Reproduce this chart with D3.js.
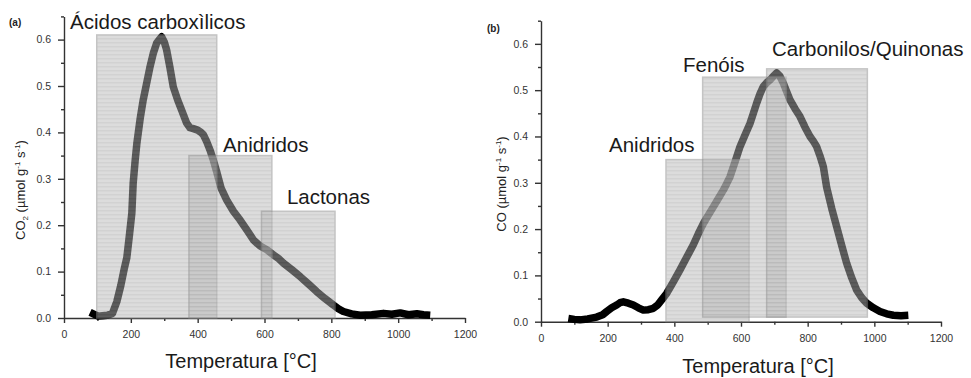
<!DOCTYPE html>
<html>
<head>
<meta charset="utf-8">
<script src="https://cdn.jsdelivr.net/npm/d3@7"></script>
<style>
  body { margin: 0; background: #fff; }
  svg { display: block; font-family: "Liberation Sans", Arial, sans-serif; }
  .axis path, .axis line { stroke: #333; stroke-width: 1.4; }
  .axis text { fill: #333; font-size: 10.5px; font-family: "Liberation Sans", Arial, sans-serif; }
  .box { fill: url(#stripes); stroke: #8a8a8a; stroke-width: 1.5; opacity: 0.5; }
  .label { fill: #1a1a1a; font-size: 20.5px; }
  .xtitle { fill: #1a1a1a; font-size: 20px; }
  .ytitle { fill: #222; font-size: 13px; }
  .panel { fill: #222; font-size: 10px; font-weight: bold; }
</style>
</head>
<body>
<script>
// panel (a): CO2 desorption
const tempA = [78, 102, 115, 130, 145, 158, 170, 180, 188, 196, 203, 207, 213, 218, 228, 237,
  247, 257, 267, 277, 285, 292, 300, 307, 317, 327, 340, 352, 367, 377, 387, 400, 410, 417,
  427, 437, 447, 457, 470, 487, 507, 527, 547, 567, 587, 607, 627, 642, 657, 682, 707, 732,
  756, 781, 806, 821, 836, 861, 886, 921, 956, 981, 1006, 1031, 1056, 1076, 1096];
const co2 = [0.012, 0.004, 0.005, 0.006, 0.01, 0.035, 0.07, 0.105, 0.13, 0.18, 0.226, 0.29,
  0.34, 0.376, 0.43, 0.47, 0.505, 0.54, 0.57, 0.592, 0.6, 0.606, 0.595, 0.578, 0.54, 0.498,
  0.47, 0.448, 0.42, 0.41, 0.408, 0.405, 0.4, 0.395, 0.38, 0.362, 0.34, 0.315, 0.28, 0.254,
  0.23, 0.211, 0.19, 0.168, 0.155, 0.147, 0.136, 0.128, 0.118, 0.104, 0.089, 0.073, 0.057,
  0.042, 0.028, 0.02, 0.014, 0.009, 0.006, 0.007, 0.01, 0.008, 0.011, 0.007, 0.009, 0.007, 0.006];

// panel (b): CO desorption
const tempB = [82, 100, 117, 140, 167, 185, 197, 212, 227, 237, 247, 262, 277, 292, 307, 322,
  337, 350, 362, 377, 397, 417, 437, 457, 472, 487, 502, 517, 532, 547, 557, 567, 582, 597,
  612, 627, 637, 647, 657, 667, 677, 687, 697, 707, 717, 727, 737, 747, 762, 777, 792, 807,
  817, 827, 837, 847, 857, 872, 887, 902, 917, 932, 947, 962, 977, 997, 1017, 1037, 1057, 1080, 1102];
const co = [0.007, 0.005, 0.004, 0.006, 0.01, 0.015, 0.022, 0.03, 0.036, 0.041, 0.043, 0.04,
  0.036, 0.03, 0.025, 0.026, 0.029, 0.036, 0.047, 0.061, 0.086, 0.112, 0.139, 0.166, 0.19,
  0.212, 0.23, 0.248, 0.266, 0.284, 0.298, 0.313, 0.345, 0.378, 0.403, 0.428, 0.45, 0.472,
  0.492, 0.508, 0.516, 0.522, 0.53, 0.537, 0.53, 0.515, 0.497, 0.479, 0.46, 0.443, 0.42, 0.4,
  0.39, 0.378, 0.358, 0.335, 0.29, 0.245, 0.205, 0.165, 0.126, 0.095, 0.068, 0.052, 0.04,
  0.03, 0.022, 0.017, 0.014, 0.013, 0.014];

// shaded regions (temperature range, height) and their labels
const groupsA = ["Ácidos carboxìlicos", "Anidridos", "Lactonas"];
const fromA = [98, 374, 591];
const toA = [457, 622, 811];
const topA = [0.61, 0.35, 0.23];
const bottomA = [0, 0, 0];
const labelTA = [18, 476, 667];
const labelVA = [0.622, 0.357, 0.245];

const groupsB = ["Anidridos", "Fenóis", "Carbonilos/Quinonas"];
const fromB = [375, 485, 677];
const toB = [624, 735, 979];
const topB = [0.35, 0.528, 0.546];
const bottomB = [0, 0.01, 0.01];
const labelTB = [204, 426, 693];
const labelVB = [0.367, 0.539, 0.574];

const xMajor = [0, 200, 400, 600, 800, 1000, 1200];
const xMinor = [100, 300, 500, 700, 900, 1100];
const yMajor = [0, 0.1, 0.2, 0.3, 0.4, 0.5, 0.6];
const yMinor = [0.05, 0.15, 0.25, 0.35, 0.45, 0.55, 0.65];

const svg = d3.select('body').append('svg')
  .attr('width', 971)
  .attr('height', 378);

// striped grey fill used by the region boxes
let pat = svg.append('defs').append('pattern')
  .attr('id', 'stripes')
  .attr('patternUnits', 'userSpaceOnUse')
  .attr('width', 8)
  .attr('height', 4);
pat.append('rect').attr('width', 8).attr('height', 4).attr('fill', '#bababa');
pat.append('rect').attr('y', 2).attr('width', 8).attr('height', 1.5).attr('fill', '#a6a6a6');

function drawPanel(p) {
  let x = d3.scaleLinear().domain([0, 1200]).range(p.xRange);
  let y = d3.scaleLinear().domain([0, 0.65]).range(p.yRange);
  let g = svg.append('g');

  // axes
  g.append('g').attr('class', 'axis')
    .attr('transform', `translate(0,${p.yRange[0]})`)
    .call(d3.axisBottom(x).tickValues(xMajor).tickSize(5).tickSizeOuter(0).tickPadding(8).tickFormat(d3.format('d')));
  g.append('g').attr('class', 'axis')
    .attr('transform', `translate(0,${p.yRange[0]})`)
    .call(d3.axisBottom(x).tickValues(xMinor).tickSize(3).tickSizeOuter(0).tickFormat(''))
    .select('.domain').remove();
  g.append('g').attr('class', 'axis')
    .attr('transform', `translate(${p.xRange[0]},0)`)
    .call(d3.axisLeft(y).tickValues(yMajor).tickSize(6).tickSizeOuter(0).tickPadding(7).tickFormat(d3.format('.1f')));
  g.append('g').attr('class', 'axis')
    .attr('transform', `translate(${p.xRange[0]},0)`)
    .call(d3.axisLeft(y).tickValues(yMinor).tickSize(3).tickSizeOuter(0).tickFormat(''))
    .select('.domain').remove();

  // desorption curve, drawn thick like the dense square markers
  let line = d3.line().x((d, i) => x(p.temps[i])).y(d => y(d));
  g.append('path')
    .datum(p.values)
    .attr('d', line)
    .attr('fill', 'none')
    .attr('stroke', '#000')
    .attr('stroke-width', 7.5)
    .attr('stroke-linejoin', 'round');

  // translucent region boxes on top of the curve
  g.selectAll('rect.box')
    .data(p.groups)
    .enter().append('rect')
      .attr('class', 'box')
      .attr('x', (d, i) => x(p.from[i]))
      .attr('width', (d, i) => x(p.to[i]) - x(p.from[i]))
      .attr('y', (d, i) => y(p.top[i]))
      .attr('height', (d, i) => y(p.bottom[i]) - y(p.top[i]));

  g.selectAll('text.label')
    .data(p.groups)
    .enter().append('text')
      .attr('class', 'label')
      .attr('x', (d, i) => x(p.labelT[i]))
      .attr('y', (d, i) => y(p.labelV[i]))
      .text(d => d);

  g.append('text')
    .attr('class', 'xtitle')
    .attr('x', p.xTitle[0])
    .attr('y', p.xTitle[1])
    .attr('text-anchor', 'middle')
    .text('Temperatura [°C]');

  let yt = g.append('text')
    .attr('class', 'ytitle')
    .attr('transform', `translate(${p.yTitle[0]},${p.yTitle[1]}) rotate(-90)`)
    .attr('text-anchor', 'middle');
  yt.append('tspan').text(p.gas);
  if (p.sub) yt.append('tspan').attr('font-size', '8px').attr('dy', 3).text(p.sub);
  yt.append('tspan').attr('dy', p.sub ? -3 : 0).text(' (µmol g');
  yt.append('tspan').attr('font-size', '8px').attr('dy', -5).text('-1');
  yt.append('tspan').attr('dy', 5).text(' s');
  yt.append('tspan').attr('font-size', '8px').attr('dy', -5).text('-1');
  yt.append('tspan').attr('dy', 5).text(')');

  g.append('text')
    .attr('class', 'panel')
    .attr('x', p.tag[0])
    .attr('y', p.tag[1])
    .text(p.tagText);
}

drawPanel({
  xRange: [64, 465], yRange: [318, 16.4],
  temps: tempA, values: co2,
  groups: groupsA, from: fromA, to: toA, top: topA, bottom: bottomA,
  labelT: labelTA, labelV: labelVA,
  xTitle: [241, 368], yTitle: [25, 190], gas: 'CO', sub: '2',
  tag: [9, 26], tagText: '(a)',
});

drawPanel({
  xRange: [541, 941], yRange: [321.7, 20.7],
  temps: tempB, values: co,
  groups: groupsB, from: fromB, to: toB, top: topB, bottom: bottomB,
  labelT: labelTB, labelV: labelVB,
  xTitle: [758, 373], yTitle: [506, 184], gas: 'CO', sub: null,
  tag: [487, 32], tagText: '(b)',
});
</script>
</body>
</html>
